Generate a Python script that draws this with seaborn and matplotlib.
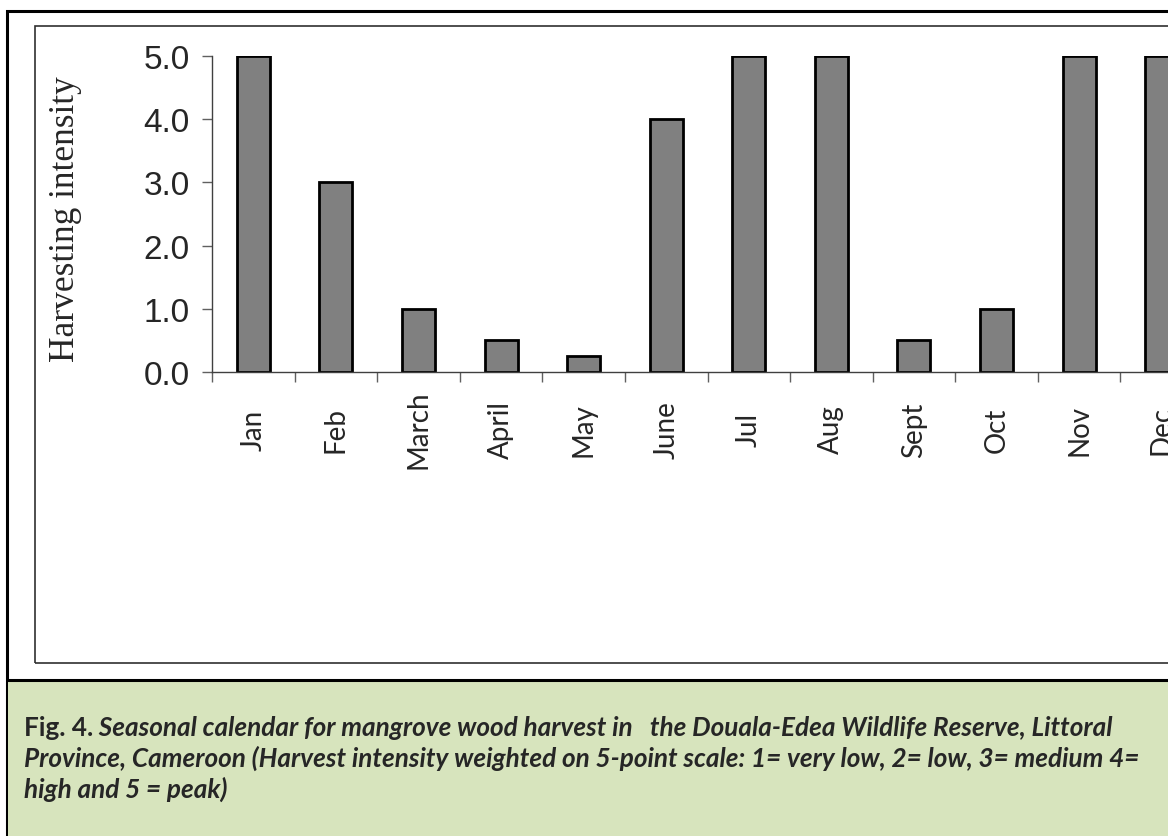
import matplotlib
matplotlib.use('Agg')
import matplotlib.pyplot as plt
import seaborn as sns
import pandas as pd
import numpy as np
from matplotlib.patches import Rectangle
from matplotlib.lines import Line2D

# data
months = ['Jan', 'Feb', 'March', 'April', 'May', 'June', 'Jul', 'Aug', 'Sept', 'Oct', 'Nov', 'Dec']
intensity = [5.0, 3.0, 1.0, 0.5, 0.25, 4.0, 5.0, 5.0, 0.5, 1.0, 5.0, 5.0]
y_ticks = [0.0, 1.0, 2.0, 3.0, 4.0, 5.0]

df = pd.DataFrame({'Month': months, 'Intensity': intensity})

sns.set_style('white')

W, H = 1168, 837
fig = plt.figure(figsize=(W / 100, H / 100), dpi=100)

def fx(px):
    return px / W

def fy(py):
    return 1 - py / H

# frames and caption band
fig.patches.append(Rectangle((fx(7), fy(900)), 1.2, fy(12) - fy(900), transform=fig.transFigure,
                             fill=False, edgecolor='black', linewidth=2.2, zorder=0))
fig.patches.append(Rectangle((fx(35), fy(664)), 1.2, fy(27) - fy(664), transform=fig.transFigure,
                             fill=False, edgecolor='#303030', linewidth=1.2, zorder=0))
fig.patches.append(Rectangle((fx(8), fy(900)), 1.2, fy(681) - fy(900), transform=fig.transFigure,
                             facecolor='#D7E4BD', edgecolor='none', zorder=0))
fig.lines.append(Line2D([fx(7), 1.1], [fy(681), fy(681)], transform=fig.transFigure,
                        color='black', linewidth=2.2))

# axes (extends past the right edge, like the cropped original)
ax = fig.add_axes([fx(212), fy(373), (991) / W, (373 - 57) / H])
ax.patch.set_alpha(0)
sns.barplot(data=df, x='Month', y='Intensity', color='#808080', edgecolor='black',
            linewidth=2, width=0.4, saturation=1, ax=ax)

ax.set_xlim(-0.5, len(months) - 0.5)
ax.set_ylim(0, 5)
ax.set_yticks(y_ticks)
ax.set_yticklabels([f'{v:.1f}' for v in y_ticks], fontfamily='Liberation Sans', fontsize=24)
ax.tick_params(axis='y', direction='out', length=7, width=1, color='#606060', pad=9, left=True)

ax.set_xticks(range(len(months)))
ax.set_xticklabels(months, rotation=90, fontfamily='Lato', fontsize=20, va='center')
ax.tick_params(axis='x', which='major', length=0, pad=41)
ax.set_xticks(np.arange(-0.5, len(months), 1), minor=True)
ax.tick_params(axis='x', which='minor', direction='out', length=7, width=1, color='#606060', bottom=True)

for s in ['top', 'right']:
    ax.spines[s].set_visible(False)
for s in ['left', 'bottom']:
    ax.spines[s].set_color('#404040')
    ax.spines[s].set_linewidth(1)

ax.set_xlabel('')
ax.set_ylabel('Harvesting intensity', fontfamily='Liberation Serif', fontsize=25.5)
ax.yaxis.label.set(ha='center', va='center')
ax.yaxis.set_label_coords((66 - 212) / 991, (373 - 219) / 316)

# caption
cap_size = 18.8
cap_x = fx(24)
t1 = fig.text(cap_x, fy(736), 'Fig. 4.', fontfamily='Lato', fontweight='bold',
              fontsize=cap_size, va='baseline', ha='left')
fig.add_artist(plt.Annotation(' Seasonal calendar for mangrove wood harvest in   the Douala-Edea Wildlife Reserve, Littoral',
                              xy=(1, 0), xycoords=t1, va='bottom', ha='left',
                              fontfamily='Lato', fontweight='bold', fontstyle='italic', fontsize=cap_size))
fig.text(cap_x, fy(767), 'Province, Cameroon (Harvest intensity weighted on 5-point scale: 1= very low, 2= low, 3= medium 4=',
         fontfamily='Lato', fontweight='bold', fontstyle='italic', fontsize=cap_size, va='baseline', ha='left')
fig.text(cap_x, fy(798), 'high and 5 = peak)',
         fontfamily='Lato', fontweight='bold', fontstyle='italic', fontsize=cap_size, va='baseline', ha='left')

fig.savefig('out.png', dpi=100)
